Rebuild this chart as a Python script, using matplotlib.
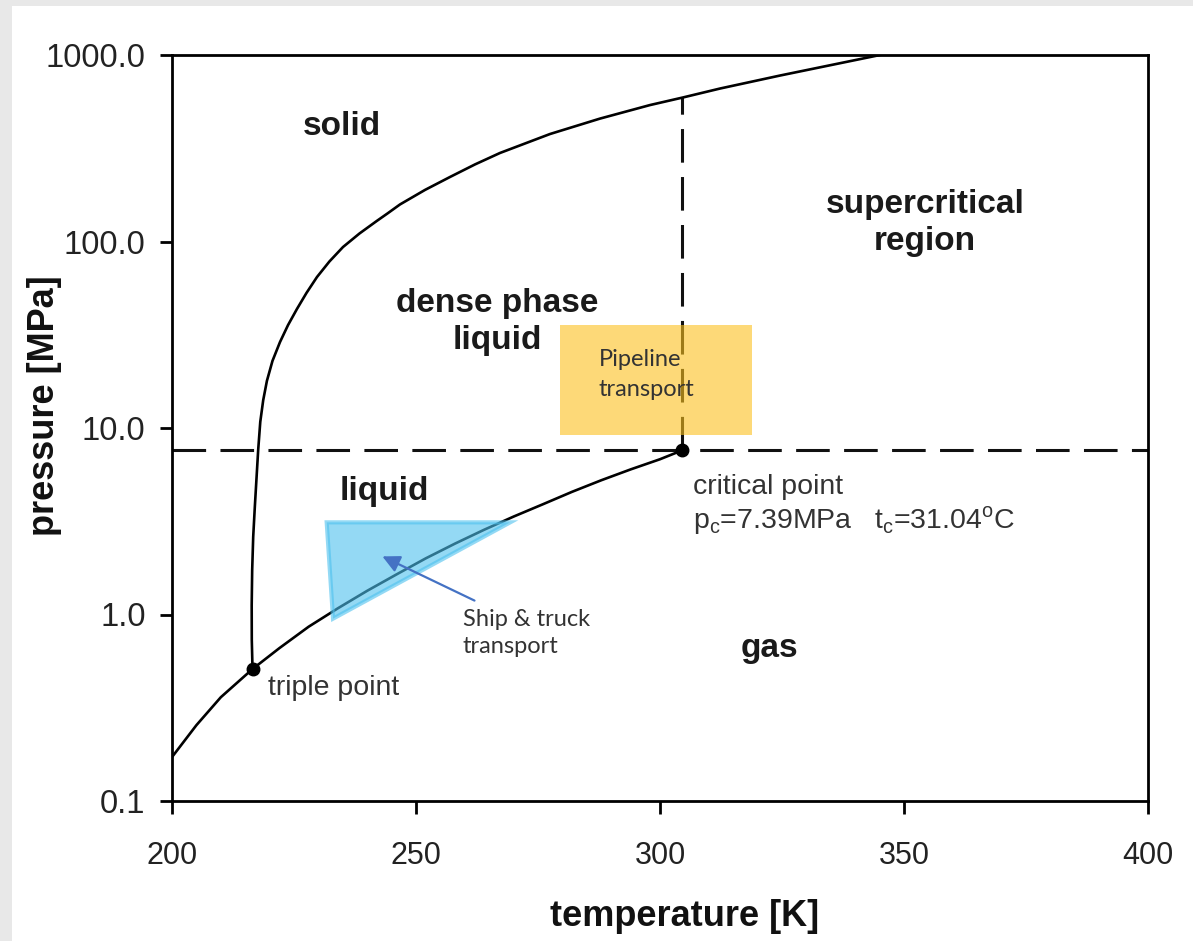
import matplotlib.pyplot as plt
from matplotlib.patches import Rectangle, Polygon

plt.rcParams['font.family'] = ['Liberation Sans', 'DejaVu Sans']
plt.rcParams['mathtext.fontset'] = 'custom'
plt.rcParams['mathtext.rm'] = 'Liberation Sans'

# vapour pressure curve (temperature K, pressure MPa)
vap_T = [200.0, 205.0, 210.0, 216.5, 222.0, 228.0, 234.0, 240.0, 246.0, 252.0,
         258.0, 264.0, 270.0, 276.0, 282.0, 288.0, 294.0, 300.0, 304.6]
vap_P = [0.172, 0.255, 0.36, 0.51, 0.66, 0.86, 1.08, 1.34, 1.64, 2.0,
         2.4, 2.85, 3.35, 3.9, 4.55, 5.25, 6.0, 6.8, 7.6]

# melting curve
melt_T = [216.5, 216.35, 216.33, 216.43, 216.64, 216.97, 217.32, 217.66, 218.09, 218.69,
          219.45, 220.59, 222.13, 223.77, 225.61, 227.56, 229.71, 232.27, 235.04, 238.42,
          241.95, 244.26, 246.72, 251.84, 256.97, 262.09, 267.21, 277.46, 287.70, 297.95,
          304.71, 312.30, 324.59, 345.08]
melt_P = [0.51, 0.73, 1.12, 1.73, 2.61, 3.77, 5.39, 7.62, 10.8, 14.1,
          17.9, 22.9, 28.9, 35.6, 43.5, 53.0, 64.5, 78.2, 93.4, 110.4,
          128.8, 142, 158, 189, 221.8, 259, 298.3, 377, 456, 539,
          592, 661, 776, 1000]

triple_T, triple_P = 216.5, 0.51
crit_T, crit_P = 304.6, 7.6
crit_top_P = 592

# transport windows
pipe_T = [279.5, 318.9]
pipe_P = [9.17, 35.6]
ship_T = [231.7, 269.3, 233.0]
ship_P = [3.12, 3.12, 0.95]

x_ticks = [200, 250, 300, 350, 400]
y_ticks = [0.1, 1.0, 10.0, 100.0, 1000.0]
y_tick_labels = ['0.1', '1.0', '10.0', '100.0', '1000.0']

fig = plt.figure(figsize=(11.93, 9.41), dpi=100, facecolor='#e8e8e8')
fig.add_artist(Rectangle((12 / 1193, 0), 1, 935 / 941, transform=fig.transFigure,
                         facecolor='white', edgecolor='none', zorder=-10))

ax = fig.add_axes([172 / 1193, 1 - 801 / 941, 976 / 1193, 746 / 941])
ax.set_yscale('log')
ax.set_xlim(200, 400)
ax.set_ylim(0.1, 1000)

# phase boundaries
ax.plot(vap_T, vap_P, color='black', lw=1.9, zorder=2, solid_joinstyle='round')
ax.plot(melt_T, melt_P, color='black', lw=1.9, zorder=2, solid_joinstyle='round')

# critical isobar / isotherm
dash = (0, (11, 4.7))
ax.axhline(crit_P, color='#111111', lw=2.2, ls=dash, zorder=1)
ax.plot([crit_T, crit_T], [crit_P, crit_top_P], color='#111111', lw=2.2, ls=dash, zorder=1)

ax.plot([triple_T, crit_T], [triple_P, crit_P], 'o', color='black', ms=9, zorder=4)

# transport regions
ax.add_patch(Rectangle((pipe_T[0], pipe_P[0]), pipe_T[1] - pipe_T[0], pipe_P[1] - pipe_P[0],
                       facecolor='#fcc11e', edgecolor='none', alpha=0.6, zorder=3))
ax.add_patch(Polygon(list(zip(ship_T, ship_P)), closed=True, facecolor='#4dc1ee',
                     edgecolor='#4dc1ee', lw=3, alpha=0.6, zorder=3))
ax.annotate('', xy=(242.6, 2.08), xytext=(262.5, 1.17),
            arrowprops=dict(arrowstyle='-|>', color='#4472c4', lw=1.6, mutation_scale=26),
            zorder=5)

# region labels
bold = dict(fontsize=24, fontweight='bold', color='#1a1a1a', ha='center', va='center')
ax.text(234.8, 416, 'solid', **bold)
ax.text(354.3, 126, 'supercritical\nregion', linespacing=1.25, **bold)
ax.text(266.6, 37.0, 'dense phase\nliquid', linespacing=1.25, **bold)
ax.text(243.6, 4.59, 'liquid', **bold)
ax.text(322.5, 0.661, 'gas', **bold)

ax.text(219.7, 0.405, 'triple point', fontsize=20.5, color='#333333', va='center')
ax.text(306.8, 4.85, 'critical point', fontsize=20.5, color='#333333', va='center')
ax.text(306.8, 3.2, r'p$_\mathregular{c}$=7.39MPa   t$_\mathregular{c}$=31.04$^\mathregular{o}$C',
        fontsize=20.5, color='#333333', va='center')

small = dict(fontsize=17, family=['Lato', 'DejaVu Sans'], color='#333333', va='center',
             zorder=6)
ax.text(287.4, 19.4, 'Pipeline\ntransport', linespacing=1.5, **small)
ax.text(259.6, 0.796, 'Ship & truck\ntransport', linespacing=1.3, **small)

# axes styling
ax.set_xticks(x_ticks)
ax.set_yticks(y_ticks)
ax.set_yticklabels(y_tick_labels)
ax.minorticks_off()
ax.tick_params(direction='out', length=9, width=2, labelsize=22, labelcolor='#222222')
ax.tick_params(axis='x', pad=20)
ax.tick_params(axis='y', pad=10, labelsize=23.5)
for s in ax.spines.values():
    s.set_linewidth(2)

fig.text(685 / 1193, 1 - 916 / 941, 'temperature [K]', fontsize=26, fontweight='bold',
         ha='center', va='center', color='#111111')
fig.text(45 / 1193, 1 - 406 / 941, 'pressure [MPa]', fontsize=26, fontweight='bold',
         ha='center', va='center', rotation=90, color='#111111')

fig.savefig('out.png', dpi=100, facecolor=fig.get_facecolor())
